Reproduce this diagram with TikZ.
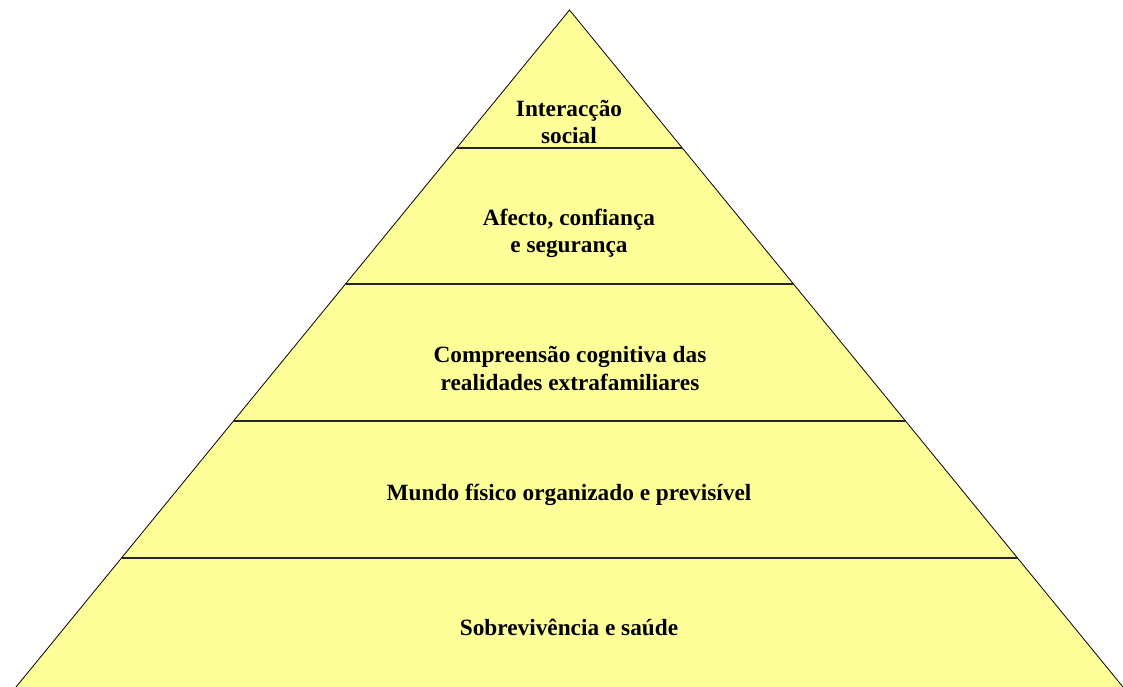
\documentclass[tikz,border=0pt]{standalone}
\usepackage{fontspec}
\setmainfont{Liberation Serif}
\definecolor{layerfill}{RGB}{255,255,153}
\tikzset{
  edge/.style={draw=black, line width=0.8pt},
  divider/.style={draw=black!85, line width=1.1pt},
  label/.style={font=\bfseries\fontsize{23.3}{27.3}\selectfont, align=center, anchor=base, inner sep=0pt}
}
\begin{document}
\begin{tikzpicture}[x=1pt, y=-1pt]
  \useasboundingbox (0,0) rectangle (1123,687);
  \clip (0,0) rectangle (1123,687);
  % outline of the pyramid
  \coordinate (apex) at (569.5,10);
  \coordinate (bl) at (5.4,700);
  \coordinate (br) at (1133.6,700);
  \fill[layerfill] (apex) -- (bl) -- (br) -- cycle;
  \draw[edge] (bl) -- (apex) -- (br);
  % layer boundaries
  \coordinate (l1) at (456.7,148);  \coordinate (r1) at (682.3,148);
  \coordinate (l2) at (345.5,284);  \coordinate (r2) at (793.5,284);
  \coordinate (l3) at (233.5,421);  \coordinate (r3) at (905.5,421);
  \coordinate (l4) at (121.5,558);  \coordinate (r4) at (1017.5,558);
  \draw[divider] (l1) -- (r1);
  \draw[divider] (l2) -- (r2);
  \draw[divider] (l3) -- (r3);
  \draw[divider] (l4) -- (r4);
  % layer labels
  \node[label] (t1) at (569,144) {Interacção\\social};
  \node[label] (t2) at (569,252.5) {Afecto, confiança\\e segurança};
  \node[label] (t3) at (570,390) {Compreensão cognitiva das\\realidades extrafamiliares};
  \node[label] (t4) at (569,500) {Mundo físico organizado e previsível};
  \node[label] (t5) at (569,635) {Sobrevivência e saúde};
\end{tikzpicture}
\end{document}
